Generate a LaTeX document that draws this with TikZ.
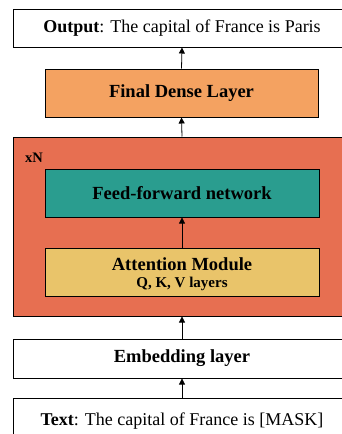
\documentclass[tikz,border=0pt]{standalone}
\usepackage{fontspec}
\setmainfont{Liberation Serif}
\usetikzlibrary{arrows.meta}
\definecolor{cOrange}{HTML}{F4A261}
\definecolor{cRed}{HTML}{E76F51}
\definecolor{cTeal}{HTML}{2A9D8F}
\definecolor{cYellow}{HTML}{E9C46A}
\tikzset{
  box/.style={draw=black, line width=1pt, rectangle, inner sep=0pt, align=center},
  arr/.style={-{Triangle[length=6pt,width=6pt]}, line width=0.8pt},
  big/.style={font=\fontsize{18}{21}\selectfont},
  bigb/.style={font=\fontsize{18.5}{21}\selectfont\bfseries},
}
\begin{document}
\begin{tikzpicture}[x=1pt,y=-1pt]
\useasboundingbox (0,0) rectangle (342,434);
\clip (0,0) rectangle (342,434);
\node[box, fill=white, big, minimum width=338pt, minimum height=38pt] (out) at (182,28) {\textbf{Output}: The capital of France is Paris};
\node[box, fill=cOrange, bigb, minimum width=273pt, minimum height=48pt] (fin) at (181.5,93) {Final Dense Layer};
\node[box, fill=cRed, minimum width=338pt, minimum height=179pt] (rep) at (182,226.5) {};
\node[font=\fontsize{14.5}{16}\selectfont\bfseries, anchor=west, inner sep=0pt] (xn) at (25,157.5) {xN};
\node[box, fill=cTeal, bigb, minimum width=274pt, minimum height=48pt] (ff) at (182,193) {Feed-forward network};
\node[box, fill=cYellow, minimum width=274pt, minimum height=48pt] (att) at (182,272) {};
\node[font=\fontsize{18.5}{21}\selectfont\bfseries, inner sep=0pt] (attl) at (182,264) {Attention Module};
\node[font=\fontsize{15}{17}\selectfont\bfseries, inner sep=0pt] (qkv) at (182,284) {Q, K, V layers};
\node[box, fill=white, bigb, minimum width=338pt, minimum height=39pt] (emb) at (182,358.5) {Embedding layer};
\node[box, fill=white, big, minimum width=338pt, minimum height=46pt] (txt) at (182,421) {\textbf{Text}: The capital of France is [MASK]};
\draw[arr] (fin.north) -- (out.south);
\draw[arr] (rep.north) -- (fin.south);
\draw[arr] (att.north) -- (ff.south);
\draw[arr] (emb.north) -- (rep.south);
\draw[arr] (txt.north) -- (emb.south);
\end{tikzpicture}
\end{document}
